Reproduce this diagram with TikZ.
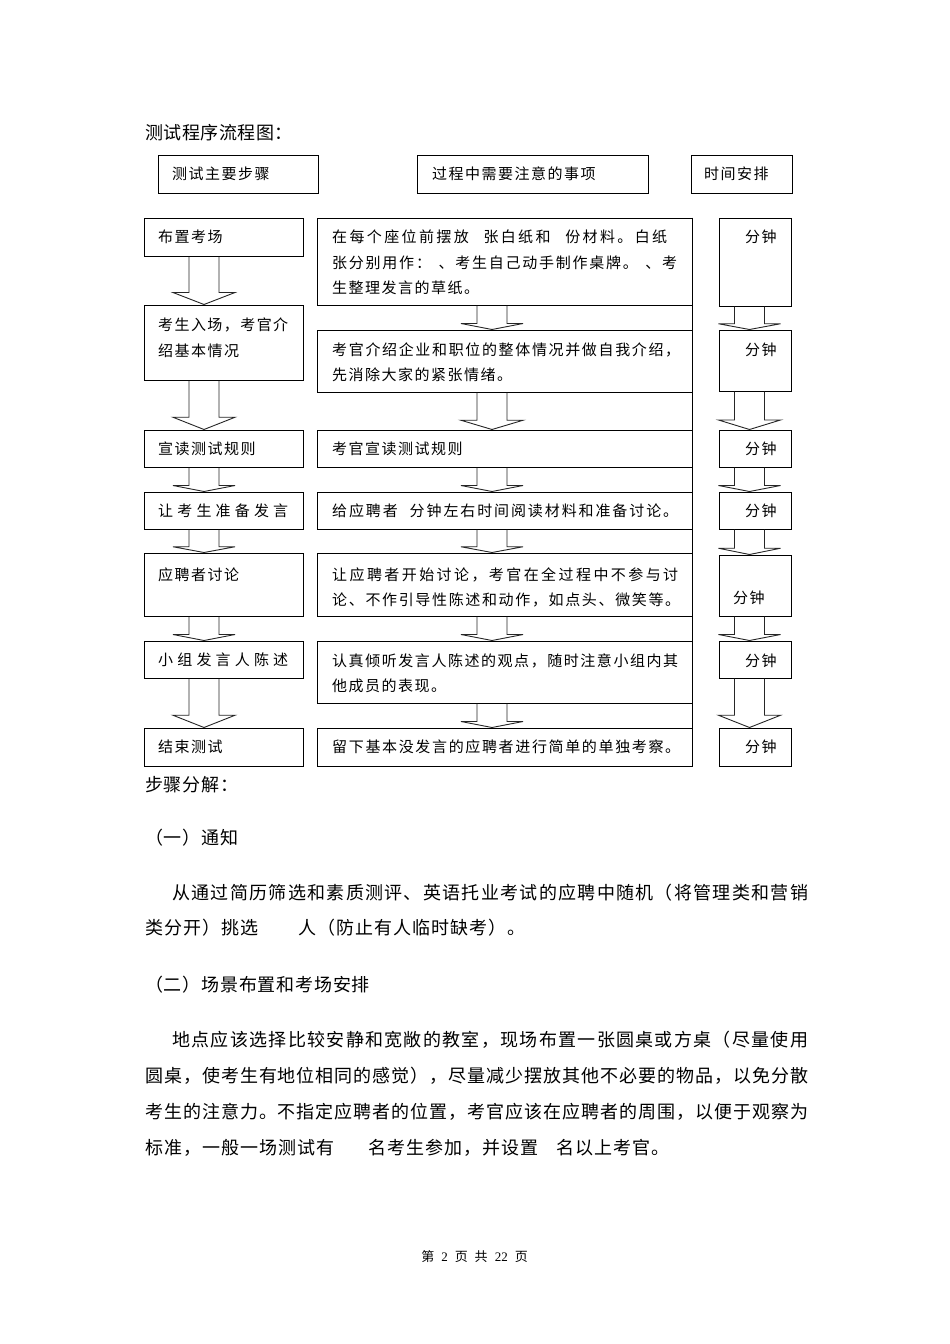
\documentclass[tikz,border=0pt]{standalone}
\usepackage{fontspec}
\setmainfont{Noto Sans CJK SC}
\newfontfamily\numfont{Liberation Serif}
\usetikzlibrary{calc}
\ExplSyntaxOn
\cs_new_protected:Npn \chmap #1#2 { \tl_map_inline:nn {#2} { ##1 #1 } }
\ExplSyntaxOff
\newcommand\zhfill[2]{\hbox to #1{\chmap{\hskip 0pt plus 1fil\relax}{#2}\unskip}}
\newcommand\zhline[2][1.5pt]{\chmap{\hskip #1\relax}{#2}\unskip}
\newcommand\dnarrow[3]{%
  \path (#1 |- #2.south) coordinate (atop) (#1 |- #3.north) coordinate (atip)
    ($(atip)!0.25!(atop)$) coordinate (ahead);
  \draw[blk] ([xshift=-15pt]atop) -- ([xshift=-15pt]ahead) -- ([xshift=-31pt]ahead) -- (atip)
    -- ([xshift=31pt]ahead) -- ([xshift=15pt]ahead) -- ([xshift=15pt]atop);}
\begin{document}
\begin{tikzpicture}[x=1pt,y=-1pt,
  box/.style={draw,line width=1pt,inner sep=0pt},
  txt/.style={anchor=west,inner sep=0pt,align=left,font=\fontsize{15}{25.5}\selectfont},
  body/.style={anchor=west,inner sep=0pt,font=\fontsize{18}{36}\selectfont},
  blk/.style={draw=black!85,line width=0.9pt,line join=miter}]
\useasboundingbox (0,0) rectangle (950,1344);
\fill[white] (0,0) rectangle (950,1344);
\node[body] at (145,133) (title){\zhline[0.5pt]{测试程序流程图：}};
\node[box,minimum width=160,minimum height=38] at (238,174) (h1){};
\node[box,minimum width=231,minimum height=38] at (532.5,174) (h2){};
\node[box,minimum width=101,minimum height=38] at (741.5,174) (h3){};
\node[txt] at (172,174) (h1t){\zhline{测试主要步骤}};
\node[txt] at (432,174) (h2t){\zhline{过程中需要注意的事项}};
\node[txt] at (704,174) (h3t){\zhline{时间安排}};
\node[box,minimum width=159,minimum height=38] at (223.5,237) (l1){};
\node[box,minimum width=159,minimum height=75] at (223.5,342.5) (l2){};
\node[box,minimum width=159,minimum height=37] at (223.5,448.5) (l3){};
\node[box,minimum width=159,minimum height=37] at (223.5,510.5) (l4){};
\node[box,minimum width=159,minimum height=63] at (223.5,584.5) (l5){};
\node[box,minimum width=159,minimum height=37] at (223.5,659.5) (l6){};
\node[box,minimum width=159,minimum height=38] at (223.5,747) (l7){};
\node[txt] at (158,237) (l1t){\zhline{布置考场}};
\node[txt] at (158,337.5) (l2t){\zhfill{130pt}{考生入场，考官介}\\\zhline{绍基本情况}};
\node[txt] at (158,448.5) (l3t){\zhline{宣读测试规则}};
\node[txt] at (158,511) (l4t){\zhfill{130pt}{让考生准备发言}};
\node[txt] at (158,575) (l5t){\zhline{应聘者讨论}};
\node[txt] at (158,660) (l6t){\zhfill{130pt}{小组发言人陈述}};
\node[txt] at (158,747) (l7t){\zhline{结束测试}};
\node[box,minimum width=375,minimum height=87] at (504.5,261.5) (m1){};
\node[box,minimum width=375,minimum height=62] at (504.5,361) (m2){};
\node[box,minimum width=375,minimum height=37] at (504.5,448.5) (m3){};
\node[box,minimum width=375,minimum height=37] at (504.5,510.5) (m4){};
\node[box,minimum width=375,minimum height=63] at (504.5,584.5) (m5){};
\node[box,minimum width=375,minimum height=62] at (504.5,672) (m6){};
\node[box,minimum width=375,minimum height=38] at (504.5,747) (m7){};
\draw[line width=1pt] (m1.north east) -- (m7.south east);
\node[txt] at (332,262.5) (m1t){\zhfill{335pt}{在每个座位前摆放{\hspace{10pt}}张白纸和{\hspace{10pt}}份材料。白纸}\\\zhfill{345pt}{张分别用作：{\hspace{4pt}}、考生自己动手制作桌牌。{\hspace{4pt}}、考}\\\zhline{生整理发言的草纸。}};
\node[txt] at (332,362.5) (m2t){\zhfill{348pt}{考官介绍企业和职位的整体情况并做自我介绍，}\\\zhline{先消除大家的紧张情绪。}};
\node[txt] at (332,448.5) (m3t){\zhline{考官宣读测试规则}};
\node[txt] at (332,511) (m4t){\zhfill{346pt}{给应聘者{\hspace{8pt}}分钟左右时间阅读材料和准备讨论。}};
\node[txt] at (332,587.5) (m5t){\zhfill{346pt}{让应聘者开始讨论，考官在全过程中不参与讨}\\\zhfill{348pt}{论、不作引导性陈述和动作，如点头、微笑等。}};
\node[txt] at (332,673.5) (m6t){\zhfill{346pt}{认真倾听发言人陈述的观点，随时注意小组内其}\\\zhline{他成员的表现。}};
\node[txt] at (332,747) (m7t){\zhfill{348pt}{留下基本没发言的应聘者进行简单的单独考察。}};
\node[box,minimum width=72,minimum height=88] at (755,262) (r1){};
\node[box,minimum width=72,minimum height=61] at (755,360.5) (r2){};
\node[box,minimum width=72,minimum height=37] at (755,448.5) (r3){};
\node[box,minimum width=72,minimum height=37] at (755,510.5) (r4){};
\node[box,minimum width=72,minimum height=61] at (755,585.5) (r5){};
\node[box,minimum width=72,minimum height=37] at (755,659.5) (r6){};
\node[box,minimum width=72,minimum height=38] at (755,747) (r7){};
\node[txt] at (745,237) (r1t){\zhline{分钟}};
\node[txt] at (745,350) (r2t){\zhline{分钟}};
\node[txt] at (745,449) (r3t){\zhline{分钟}};
\node[txt] at (745,511) (r4t){\zhline{分钟}};
\node[txt] at (733,598) (r5t){\zhline{分钟}};
\node[txt] at (745,661) (r6t){\zhline{分钟}};
\node[txt] at (745,747) (r7t){\zhline{分钟}};
\coordinate (lx) at (204,0);
\coordinate (mx) at (492,0);
\coordinate (rx) at (749.5,0);
\dnarrow{lx}{l1}{l2}
\dnarrow{lx}{l2}{l3}
\dnarrow{lx}{l3}{l4}
\dnarrow{lx}{l4}{l5}
\dnarrow{lx}{l5}{l6}
\dnarrow{lx}{l6}{l7}
\dnarrow{mx}{m1}{m2}
\dnarrow{mx}{m2}{m3}
\dnarrow{mx}{m3}{m4}
\dnarrow{mx}{m4}{m5}
\dnarrow{mx}{m5}{m6}
\dnarrow{mx}{m6}{m7}
\dnarrow{rx}{r1}{r2}
\dnarrow{rx}{r2}{r3}
\dnarrow{rx}{r3}{r4}
\dnarrow{rx}{r4}{r5}
\dnarrow{rx}{r5}{r6}
\dnarrow{rx}{r6}{r7}
\node[body] at (145,785) (b1){\zhline[0.8pt]{步骤分解：}};
\node[body] at (145,838) (b2){\zhline[0.8pt]{（一）通知}};
\node[body] at (172,893) (b3){\zhfill{636pt}{从通过简历筛选和素质测评、英语托业考试的应聘中随机（将管理类和营销}};
\node[body] at (145,928) (b4){\zhline[1pt]{类分开）挑选{\hspace{38pt}}人（防止有人临时缺考）。}};
\node[body] at (145,985) (b5){\zhline[0.8pt]{（二）场景布置和考场安排}};
\node[body] at (172,1040) (b6){\zhfill{636pt}{地点应该选择比较安静和宽敞的教室，现场布置一张圆桌或方桌（尽量使用}};
\node[body] at (145,1076) (b7){\zhfill{663pt}{圆桌，使考生有地位相同的感觉），尽量减少摆放其他不必要的物品，以免分散}};
\node[body] at (145,1112) (b8){\zhfill{663pt}{考生的注意力。不指定应聘者的位置，考官应该在应聘者的周围，以便于观察为}};
\node[body] at (145,1148) (b9){\zhline[1pt]{标准，一般一场测试有{\hspace{32pt}}名考生参加，并设置{\hspace{16pt}}名以上考官。}};
\node[inner sep=0pt,font=\fontsize{13}{13}\selectfont] at (474.5,1257) (pg){第\hspace{7pt}{\numfont 2}\hspace{7pt}页\hspace{7pt}共\hspace{7pt}{\numfont 22}\hspace{7pt}页};
\end{tikzpicture}
\end{document}
